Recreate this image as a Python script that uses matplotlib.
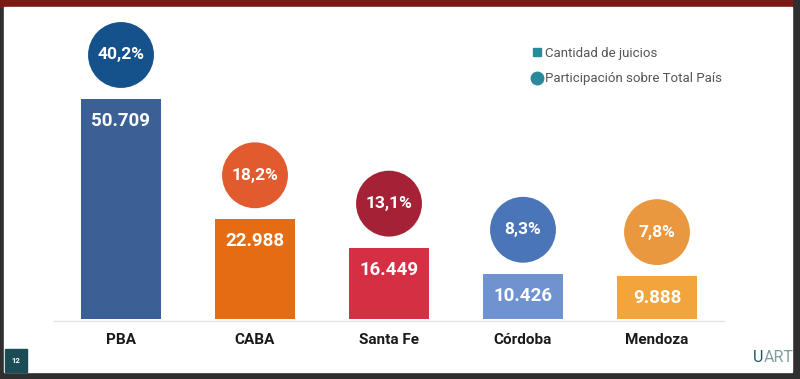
import matplotlib.pyplot as plt
from matplotlib.lines import Line2D
from matplotlib.patches import Rectangle

provincias = ["PBA", "CABA", "Santa Fe", "Córdoba", "Mendoza"]
juicios = [50709, 22988, 16449, 10426, 9888]
participacion = [40.2, 18.2, 13.1, 8.3, 7.8]

bar_colors = ["#3b6095", "#e56c12", "#d42f42", "#6f92d0", "#f1a53c"]
circle_colors = ["#15518a", "#e15b2e", "#a52236", "#4a76b8", "#ea9840"]

W, H = 800, 379
fig = plt.figure(figsize=(8, 3.79), dpi=100, facecolor="#2f2f2f")

# slide frame
fig.patches.append(Rectangle((0, 1 - 7 / H), 792 / W, 7 / H, transform=fig.transFigure,
                             color="#7b1a14", zorder=-2))
fig.patches.append(Rectangle((4 / W, 7 / H), 788 / W, (H - 14) / H, transform=fig.transFigure,
                             color="white", zorder=-2))
fig.patches.append(Rectangle((5 / W, 7 / H), 22 / W, 23 / H, transform=fig.transFigure,
                             color="#1b4d57", zorder=-1))
fig.text(16 / W, 18.5 / H, "12", color="white", fontsize=5.5, fontweight="bold",
         ha="center", va="center", family="Roboto")
fig.text(763 / W, 21 / H, "U", color="#1e5660", fontsize=11.5, ha="right", va="center",
         family=["DejaVu Sans Condensed", "Roboto"], fontstretch="condensed")
fig.text(763.5 / W, 21 / H, "ART", color="#7e9ea3", fontsize=11.5, ha="left", va="center",
         family=["DejaVu Sans Condensed", "Roboto"], fontstretch="condensed")

ax = fig.add_axes([54 / W, 60 / H, 670 / W, 299 / H], zorder=2)
ax.set_facecolor("none")
ymax = 299 / 220 * juicios[0]
ax.set_xlim(-0.5, 4.5)
ax.set_ylim(0, ymax)
for s in ax.spines.values():
    s.set_visible(False)
ax.set_xticks([])
ax.set_yticks([])

px = ymax / 299  # data units per pixel
x = range(len(provincias))
ax.bar(x, juicios, width=0.6, color=bar_colors, zorder=2)
ax.axhline(-1.5 * px, color="#e4e4e4", lw=1, zorder=1, clip_on=False)

offset = 44 * px
ax.scatter(x, [v + offset for v in juicios], s=2250, c=circle_colors, zorder=3,
           linewidths=0)

for i, (v, p) in enumerate(zip(juicios, participacion)):
    ax.text(i, v - 22 * px, f"{v:,}".replace(",", "."), color="white", fontsize=13.5,
            fontweight="bold", ha="center", va="center", family="Roboto", zorder=4)
    ax.text(i, v + offset, f"{p:.1f}%".replace(".", ","), color="white", fontsize=12.5,
            fontweight="bold", ha="center", va="center", family="Roboto", zorder=4)
    ax.text(i, -21 * px, provincias[i], color="#1a1a1a", fontsize=11, fontweight="bold",
            ha="center", va="center", family=["DejaVu Sans Condensed", "Roboto"],
            fontstretch="condensed", clip_on=False)

handles = [
    Line2D([], [], marker="s", ls="", color="#2a8a9c", markersize=6),
    Line2D([], [], marker="o", ls="", color="#2a8a9c", markersize=9),
]
fig.legend(handles, ["Cantidad de juicios", "Participación sobre Total País"],
           loc="upper left", bbox_to_anchor=(519 / W, 1 - 35 / H), frameon=False,
           handletextpad=0.1, handlelength=1.0, labelspacing=0.95,
           prop={"family": "Roboto", "size": 9.5}, labelcolor="#555555")

fig.savefig("out.png", dpi=100, facecolor=fig.get_facecolor())
